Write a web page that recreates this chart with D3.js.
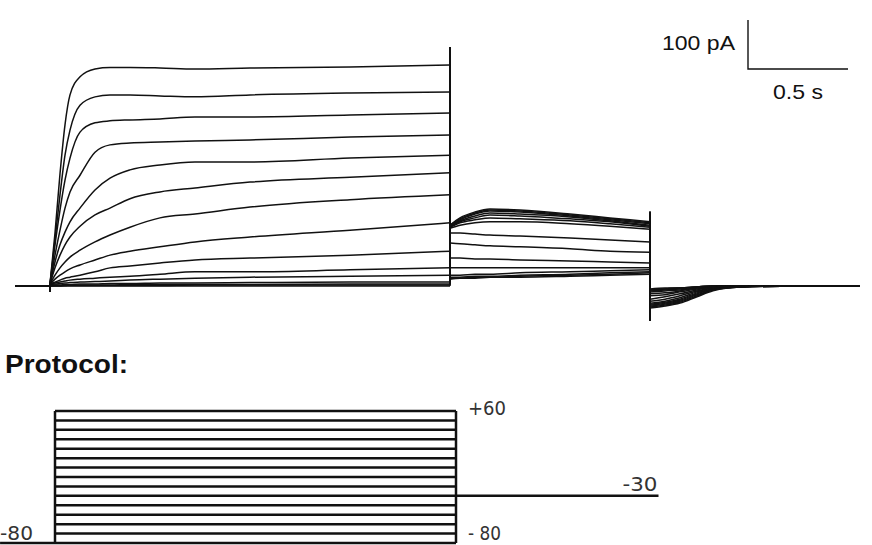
<!DOCTYPE html>
<html lang="en">
<head>
<meta charset="UTF-8">
<title>Outward current and voltage protocol</title>
<script src="https://d3js.org/d3.v7.min.js"></script>
<style>
  body { margin: 0; background: #fff; }
  .trace { fill: none; stroke: #111; stroke-width: 1.5px; stroke-linejoin: round; }
  .cmd { fill: none; stroke: #111; stroke-width: 2.5px; }
  .bar { fill: none; stroke: #111; stroke-width: 1.4px; }
  .lbl { font-family: "Liberation Sans", Arial, sans-serif; font-size: 21px; fill: #111; }
  .vlbl { font-family: "DejaVu Sans", sans-serif; font-size: 20px; fill: #333; }
  .title { font-family: "Liberation Sans", Arial, sans-serif; font-size: 25px; font-weight: bold; fill: #111; }
</style>
</head>
<body>
<svg id="chart" width="872" height="545"></svg>
<script>
    // test potentials (mV), one sweep each
    const sweepMV = [-80, -70, -60, -50, -40, -30, -20, -10, 0, 10, 20, 30, 40, 50, 60];

    // current during the 2 s step (pA), sampled at stepT (s)
    const stepT = [0, 0.025, 0.05, 0.075, 0.1, 0.15, 0.225, 0.3, 0.4, 0.55, 0.725, 1.0, 1.5, 2.0];
    const stepI = [
        [0, 0, 0, 0, 0, 0, 0, 0, 0, 0, 0, 0, 0, 0],
        [0, 0, 0, 1, 1, 1, 1, 1, 1, 1, 2, 2, 2, 2],
        [0, 1, 1, 1, 2, 2, 2, 2, 3, 3, 3, 3, 4, 4],
        [1, 2, 2, 3, 3, 4, 4, 5, 5, 6, 6, 7, 8, 8],
        [2, 4, 5, 6, 7, 8, 9, 10, 12, 14, 16, 18, 20, 22],
        [4, 6, 8, 10, 12, 14, 16, 18, 20, 24, 29, 29, 33, 37],
        [4, 8, 12, 16, 18, 22, 29, 37, 41, 47, 53, 57, 63, 71],
        [4, 14, 22, 29, 35, 43, 53, 63, 71, 80, 90, 100, 114, 129],
        [4, 22, 37, 49, 59, 73, 90, 104, 120, 139, 147, 161, 176, 186],
        [4, 37, 63, 84, 100, 122, 145, 159, 178, 192, 200, 212, 222, 231],
        [4, 49, 84, 110, 131, 159, 196, 220, 237, 247, 253, 253, 261, 267],
        [4, 63, 114, 159, 192, 226, 273, 288, 292, 294, 296, 298, 304, 308],
        [4, 84, 155, 216, 261, 314, 333, 337, 339, 341, 345, 345, 349, 353],
        [4, 94, 186, 267, 318, 369, 386, 390, 390, 388, 386, 390, 394, 396],
        [4, 108, 229, 329, 390, 427, 443, 446, 446, 445, 443, 445, 447, 451]
    ];

    // tail current at -30 mV (pA), time after the step (s)
    const tailT = [0, 0.05, 0.125, 0.2, 0.35, 0.6, 0.8, 1.0];
    const tailI = [
        [14, 16, 16, 18, 18, 20, 22, 24],
        [16, 16, 18, 18, 20, 22, 24, 27],
        [18, 18, 20, 20, 22, 24, 27, 29],
        [22, 22, 24, 24, 27, 29, 31, 33],
        [37, 37, 37, 37, 37, 37, 37, 37],
        [57, 57, 55, 55, 53, 51, 49, 47],
        [88, 86, 84, 82, 80, 76, 71, 69],
        [108, 108, 106, 104, 102, 98, 94, 90],
        [118, 124, 129, 131, 131, 127, 122, 116],
        [120, 129, 135, 139, 137, 133, 127, 120],
        [120, 131, 139, 145, 143, 137, 131, 122],
        [122, 133, 143, 149, 147, 141, 133, 124],
        [122, 135, 147, 153, 151, 143, 135, 127],
        [124, 137, 149, 155, 153, 145, 137, 129],
        [124, 139, 151, 157, 155, 147, 139, 131]
    ];

    // deactivation back at -80 mV (pA)
    const deactT = [0, 0.075, 0.15, 0.235, 0.315, 0.45, 0.75, 1.05];
    const deactI = [
        [-6, -4, -4, -2, 0, 0, 0, 0],
        [-8, -6, -4, -2, 0, 0, 0, 0],
        [-8, -6, -4, -2, 0, 0, 0, 0],
        [-10, -8, -6, -2, 0, 0, 0, 0],
        [-12, -10, -8, -4, -2, 0, 0, 0],
        [-16, -14, -10, -4, -2, 0, 0, 0],
        [-20, -18, -12, -6, -2, 0, 0, 0],
        [-27, -22, -16, -8, -2, 0, 0, 0],
        [-31, -27, -20, -10, -4, 0, 0, 0],
        [-35, -31, -24, -12, -4, 0, 0, 0],
        [-37, -33, -27, -14, -6, -2, 0, 0],
        [-39, -35, -29, -16, -6, -2, 0, 0],
        [-41, -37, -31, -18, -8, -2, 0, 0],
        [-43, -39, -33, -20, -8, -2, 0, 0],
        [-45, -41, -35, -22, -10, -2, 0, 0]
    ];

    // capacitive transients at each voltage change (pA)
    const capOn = [-10];
    const capOff = [485];
    const capTail = [150, -70];

    const preT = -0.175;   // baseline before the step
    const holdT = -0.274;  // holding shown in the protocol

    const svg = d3.select("#chart");

    // ---- current traces ----
    const x = d3.scaleLinear().domain([-0.175, 4.05]).range([15, 860]);
    const y = d3.scaleLinear().domain([0, 100]).range([286, 237]);

    const smooth = d3.line().x(d => x(d[0])).y(d => y(d[1])).curve(d3.curveMonotoneX);
    const straight = d3.line().x(d => x(d[0])).y(d => y(d[1]));

    const traces = svg.append("g");
    sweepMV.forEach((mv, i) => {
        const s = stepI[i], tl = tailI[i], dc = deactI[i];
        const g = traces.append("g");

        g.append("path").attr("class", "trace")
            .attr("d", straight([[preT, 0], [0, 0], [0, capOn[0]], [0, s[0]]]));
        g.append("path").attr("class", "trace")
            .attr("d", smooth(stepT.map((t, j) => [t, s[j]])));
        g.append("path").attr("class", "trace")
            .attr("d", straight([[2, s[s.length - 1]], [2, capOff[0]], [2, tl[0]]]));
        g.append("path").attr("class", "trace")
            .attr("d", smooth(tailT.map((t, j) => [2 + t, tl[j]])));
        g.append("path").attr("class", "trace")
            .attr("d", straight([[3, tl[tl.length - 1]], [3, capTail[0]], [3, capTail[1]], [3, dc[0]]]));
        g.append("path").attr("class", "trace")
            .attr("d", smooth(deactT.map((t, j) => [3 + t, dc[j]])));
    });

    // scale bar: 0.5 s, 100 pA
    const barT = 3.49, barI = 443;
    svg.append("path").attr("class", "bar")
        .attr("d", straight([[barT, barI + 100], [barT, barI], [barT + 0.5, barI]]));
    svg.append("text").attr("class", "lbl")
        .attr("x", x(barT) - 13).attr("y", 49.5)
        .attr("text-anchor", "end")
        .attr("textLength", 73).attr("lengthAdjust", "spacingAndGlyphs")
        .text("100 pA");
    svg.append("text").attr("class", "lbl")
        .attr("x", x(barT + 0.25)).attr("y", 99)
        .attr("text-anchor", "middle")
        .attr("textLength", 50).attr("lengthAdjust", "spacingAndGlyphs")
        .text("0.5 s");

    // ---- protocol ----
    svg.append("text").attr("class", "title")
        .attr("x", 5).attr("y", 373)
        .attr("textLength", 123).attr("lengthAdjust", "spacingAndGlyphs")
        .text("Protocol:");

    const xp = d3.scaleLinear().domain([0, 2]).range([55, 456]);
    const yv = d3.scaleLinear().domain([-80, 60]).range([543, 411]);
    const vline = d3.line().x(d => xp(d[0])).y(d => yv(d[1]));

    const prot = svg.append("g");
    prot.append("path").attr("class", "cmd").attr("d", vline([[holdT, -80], [0, -80]]));
    sweepMV.forEach(mv => {
        prot.append("path").attr("class", "cmd").attr("d", vline([[0, mv], [2, mv]]));
    });
    prot.append("path").attr("class", "cmd").attr("d", vline([[0, -80], [0, 60]]));
    prot.append("path").attr("class", "cmd").attr("d", vline([[2, -80], [2, 60]]));
    prot.append("path").attr("class", "cmd").attr("d", vline([[2, -30], [3.01, -30]]));

    const vlabels = [
        { t: 2.06, v: 60, dy: 4, text: "+60", w: 38 },
        { t: 2.06, v: -80, dy: -3, text: "- 80", w: 33 },
        { t: 2.83, v: -30, dy: -4.5, text: "-30", w: 35 },
        { t: holdT, v: -80, dy: -3, text: "-80", w: 33 }
    ];
    prot.selectAll("text.vlbl").data(vlabels).enter().append("text")
        .attr("class", "vlbl")
        .attr("x", d => xp(d.t))
        .attr("y", d => yv(d.v) + d.dy)
        .attr("textLength", d => d.w).attr("lengthAdjust", "spacingAndGlyphs")
        .text(d => d.text);
</script>
</body>
</html>
